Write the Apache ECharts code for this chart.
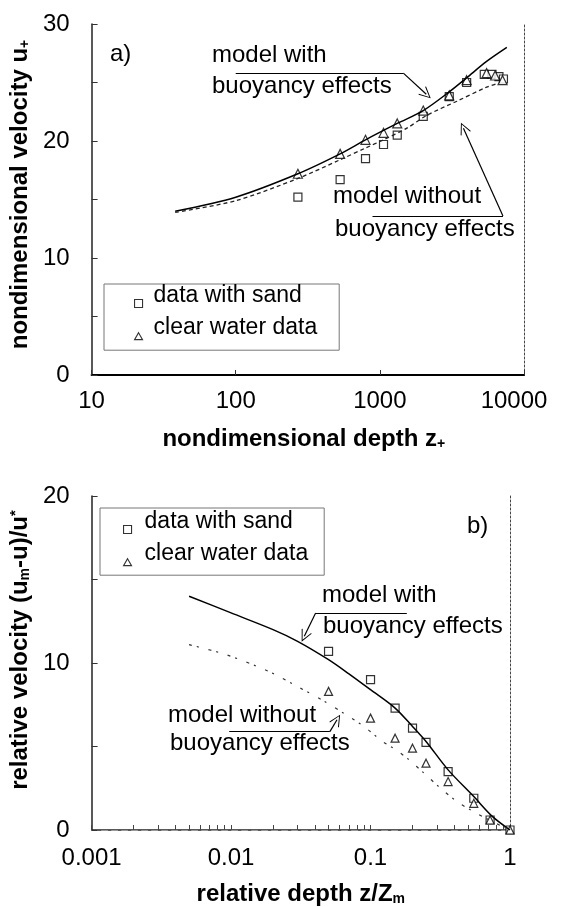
<!DOCTYPE html>
<html>
<head>
<meta charset="utf-8">
<script src="https://cdn.jsdelivr.net/npm/echarts@6/dist/echarts.min.js"></script>
<style>
html, body { margin: 0; padding: 0; background: #fff; }
#c { width: 567px; height: 907px; }
</style>
</head>
<body>
<div id="c"></div>
<script>
// ---- (a) nondimensional velocity profile ----
const zPlusSand   = [270, 530, 795, 1060, 1320, 2000, 3030, 4000, 5300, 6000, 6700, 7200];
const uPlusSand   = [15.2, 16.7, 18.5, 19.7, 20.5, 22.1, 23.8, 25.0, 25.7, 25.7, 25.5, 25.3];
const zPlusClear  = [270, 530, 795, 1060, 1320, 2000, 3030, 4000, 5500, 6300, 7100];
const uPlusClear  = [17.2, 18.9, 20.1, 20.7, 21.5, 22.6, 23.9, 25.2, 25.8, 25.6, 25.2];
const zPlusWith   = [38, 100, 270, 530, 795, 1320, 2000, 3030, 4000, 5500, 7600];
const uPlusWith   = [14.0, 15.2, 17.2, 18.9, 20.1, 21.5, 22.6, 24.2, 25.4, 26.8, 28.0];
const zPlusNo     = [38, 100, 270, 530, 795, 1060, 1540, 2120, 3420, 5500, 6450];
const uPlusNo     = [13.9, 14.9, 16.8, 18.4, 19.4, 20.1, 21.1, 22.2, 23.4, 24.6, 24.9];
const zPlusTicks  = [10, 100, 1000, 10000];

// ---- (b) velocity defect profile ----
const relDepth      = [0.05, 0.1, 0.15, 0.2, 0.25, 0.36, 0.55, 0.72, 1.0];
const defectSand    = [10.7, 9.0, 7.3, 6.1, 5.25, 3.5, 1.9, 0.6, 0];
const defectClear   = [8.3, 6.7, 5.5, 4.9, 4.0, 2.9, 1.6, 0.6, 0];
const relDepthWith  = [0.005, 0.01, 0.02, 0.03, 0.05, 0.07, 0.1, 0.15, 0.2, 0.25, 0.36, 0.55, 0.75, 1.0];
const defectWith    = [14.0, 13.0, 12.0, 11.3, 10.2, 9.35, 8.4, 7.3, 6.2, 5.3, 3.6, 2.0, 0.8, 0];
const relDepthNo    = [0.005, 0.0092, 0.0186, 0.0313, 0.0446, 0.073, 0.093, 0.122, 0.152, 0.189, 0.242, 0.318, 0.417, 0.547, 0.75, 1.0];
const defectNo      = [11.1, 10.5, 9.5, 8.5, 7.8, 6.7, 6.1, 5.3, 4.8, 4.2, 3.4, 2.5, 1.7, 1.1, 0.5, 0];
const relDepthDecades = [0.001, 0.01, 0.1, 1];

const SAND = 'data with sand';
const CLEAR = 'clear water data';
const FONT = '"Liberation Sans", Arial, Helvetica, sans-serif';

const zip = (xs, ys) => xs.map((x, i) => [x, ys[i]]);

// tick marks at 1..9 times each decade of the relative-depth axis
const relDepthTicks = [];
relDepthDecades.slice(0, -1).forEach(d => {
  for (let k = 1; k <= 9; k++) relDepthTicks.push(+(d * k).toPrecision(2));
});
relDepthTicks.push(relDepthDecades[relDepthDecades.length - 1]);

// open arrowhead (tip at the top of the path box)
const CHEVRON = 'path://M10,0 L20,18 L18.6,19 L10,3.2 L1.4,19 L0,18 Z';
// legend icons sitting low beside their text (the leading move-to widens the box upward)
const ICON_SQUARE = 'path://M0,0 M0,15 L8,15 L8,23 L0,23 Z';
const ICON_TRIANGLE = 'path://M0,0 M4,16 L8,23 L0,23 Z';

function leader(points) {
  // polyline leader: plain segments, arrowhead on the final one
  const segs = [];
  for (let i = 0; i < points.length - 1; i++) {
    const last = i === points.length - 2;
    segs.push([
      { coord: points[i], symbol: 'none' },
      { coord: points[i + 1], symbol: last ? CHEVRON : 'none', symbolSize: [11, 12] }
    ]);
  }
  return segs;
}

const nameStyle = (pad) => ({
  fontSize: 24, fontWeight: 'bold', fontFamily: FONT, color: '#000',
  padding: pad,
  rich: {
    s: { fontSize: 14, fontWeight: 'bold', fontFamily: FONT, color: '#000', verticalAlign: 'bottom', lineHeight: 6 },
    t: { fontSize: 15, fontWeight: 'bold', fontFamily: FONT, color: '#000', verticalAlign: 'top', lineHeight: 6 }
  }
});

const tickLabel = { fontSize: 24, fontFamily: FONT, color: '#000' };

function frameX(grid, min, max, color, type, width) {
  return {
    type: 'log', gridIndex: grid, min, max, position: 'top',
    axisLine: { show: true, lineStyle: { color, type, width } },
    axisTick: { show: false }, axisLabel: { show: false }, splitLine: { show: false }
  };
}
function frameY(grid, min, max, color, type, width) {
  return {
    type: 'value', gridIndex: grid, min, max, position: 'right',
    axisLine: { show: true, lineStyle: { color, type, width } },
    axisTick: { show: false }, axisLabel: { show: false }, splitLine: { show: false }
  };
}

const markerStyle = { color: '#fff', borderColor: '#000', borderWidth: 1.2 };

function legendBox(left, top, padding, textPad) {
  return {
    orient: 'vertical', left, top, padding, itemGap: 8,
    itemWidth: 8, itemHeight: 23, selectedMode: false,
    borderColor: '#777', borderWidth: 1,
    itemStyle: { color: '#fff', borderColor: '#000', borderWidth: 1.1 },
    textStyle: { fontSize: 23, fontFamily: FONT, color: '#000', padding: [0, 0, 0, textPad] },
    data: [{ name: SAND, icon: ICON_SQUARE }, { name: CLEAR, icon: ICON_TRIANGLE }]
  };
}

const option = {
  animation: false,
  backgroundColor: '#fff',
  grid: [
    { left: 90, top: 24, width: 434, height: 351 },
    { left: 88, top: 496, width: 422, height: 334 }
  ],
  xAxis: [
    {
      type: 'log', gridIndex: 0, min: 10, max: 10000, position: 'bottom',
      axisLine: { show: true, lineStyle: { color: '#333', width: 1.5 } },
      axisTick: { show: true, inside: true, length: 5, lineStyle: { color: '#333' } },
      axisLabel: {
        ...tickLabel, margin: 14, showMinLabel: true, showMaxLabel: true,
        formatter: v => {
          const n = Math.round(v);
          return n === zPlusTicks[zPlusTicks.length - 1] ? '{r|' + n + '}' : String(n);
        },
        rich: { r: { ...tickLabel, padding: [0, 20, 0, 0] } }
      },
      splitLine: { show: false },
      name: 'nondimensional depth z{s|+}', nameLocation: 'middle', nameGap: 52,
      nameTextStyle: nameStyle([0, 8, 0, 0])
    },
    frameX(0, 10, 10000, '#000', 'solid', 2),
    {
      type: 'log', gridIndex: 1, min: 0.001, max: 1, position: 'bottom',
      axisLine: { show: true, lineStyle: { color: '#222', width: 1.5 } },
      axisTick: { show: true, inside: true, length: 5, lineStyle: { color: '#444' }, customValues: relDepthTicks },
      axisLabel: {
        ...tickLabel, margin: 16, showMinLabel: true, showMaxLabel: true,
        customValues: relDepthDecades,
        formatter: v => String(+(+v).toPrecision(1))
      },
      splitLine: { show: false },
      name: 'relative depth z/Z{s|m}', nameLocation: 'middle', nameGap: 52,
      nameTextStyle: nameStyle(0)
    },
    frameX(1, 0.001, 1, '#999', [6, 4], 1)
  ],
  yAxis: [
    {
      type: 'value', gridIndex: 0, min: 0, max: 30, interval: 5,
      axisLine: { show: true, lineStyle: { color: '#222', width: 1.5 } },
      axisTick: { show: true, inside: true, length: 6, lineStyle: { color: '#333' } },
      axisLabel: { ...tickLabel, margin: 22, padding: [0, 0, 10, 0], formatter: v => (v % 10 === 0 ? String(v) : '') },
      splitLine: { show: false },
      name: 'nondimensional velocity u{s|+}', nameLocation: 'middle', nameGap: 46,
      nameTextStyle: nameStyle([0, 0, 0, 10])
    },
    frameY(0, 0, 30, '#444', [2, 2], 1),
    {
      type: 'value', gridIndex: 1, min: 0, max: 20, interval: 5,
      axisLine: { show: true, lineStyle: { color: '#222', width: 1.5 } },
      axisTick: { show: true, inside: true, length: 6, lineStyle: { color: '#333' } },
      axisLabel: { ...tickLabel, margin: 22, padding: [0, 0, 8, 0], formatter: v => (v % 10 === 0 ? String(v) : '') },
      splitLine: { show: false },
      name: 'relative velocity (u{s|m}-u)/u{t|*}', nameLocation: 'middle', nameGap: 44,
      nameTextStyle: nameStyle([0, 0, 0, 26])
    },
    frameY(1, 0, 20, '#444', [2, 2], 1)
  ],
  legend: [
    legendBox(104, 284, [0, 22, 10, 30], 6),
    legendBox(100, 508, [2, 16, 9, 23], 8)
  ],
  series: [
    // (a)
    {
      type: 'line', name: 'model with buoyancy effects', xAxisIndex: 0, yAxisIndex: 0,
      data: zip(zPlusWith, uPlusWith), smooth: 0.3, symbol: 'none',
      lineStyle: { color: '#000', width: 1.5 },
      markLine: {
        silent: true, animation: false, label: { show: false },
        lineStyle: { color: '#000', width: 1.2, type: 'solid' },
        data: leader([[100, 25.8], [1455, 25.8], [2100, 24.0]])
      }
    },
    {
      type: 'line', name: 'model without buoyancy effects', xAxisIndex: 0, yAxisIndex: 0,
      data: zip(zPlusNo, uPlusNo), smooth: 0.3, symbol: 'none',
      lineStyle: { color: '#222', width: 1.3, type: [4, 3] },
      markLine: {
        silent: true, animation: false, label: { show: false },
        lineStyle: { color: '#000', width: 1.2, type: 'solid' },
        data: leader([[889, 13.6], [7145, 13.6], [3800, 21.1]])
      }
    },
    {
      type: 'scatter', name: SAND, xAxisIndex: 0, yAxisIndex: 0,
      data: zip(zPlusSand, uPlusSand), symbol: 'rect', symbolSize: 8, itemStyle: markerStyle
    },
    {
      type: 'scatter', name: CLEAR, xAxisIndex: 0, yAxisIndex: 0,
      data: zip(zPlusClear, uPlusClear), symbol: 'triangle', symbolSize: 9, itemStyle: markerStyle
    },
    // (b)
    {
      type: 'line', name: 'model with buoyancy effects (b)', xAxisIndex: 2, yAxisIndex: 2,
      data: zip(relDepthWith, defectWith), smooth: 0.3, symbol: 'none',
      lineStyle: { color: '#000', width: 1.5 },
      markLine: {
        silent: true, animation: false, label: { show: false },
        lineStyle: { color: '#000', width: 1.2, type: 'solid' },
        data: leader([[0.182, 13.0], [0.0404, 13.0], [0.0335, 11.6]])
      }
    },
    {
      type: 'line', name: 'model without buoyancy effects (b)', xAxisIndex: 2, yAxisIndex: 2,
      data: zip(relDepthNo, defectNo), smooth: 0.3, symbol: 'none',
      lineStyle: { color: '#333', width: 1.2, type: [3, 5, 2, 10] },
      markLine: {
        silent: true, animation: false, label: { show: false },
        lineStyle: { color: '#000', width: 1.2, type: 'solid' },
        data: leader([[0.0097, 5.89], [0.0511, 5.89], [0.0575, 6.6]])
      }
    },
    {
      type: 'scatter', name: SAND, xAxisIndex: 2, yAxisIndex: 2,
      data: zip(relDepth, defectSand), symbol: 'rect', symbolSize: 8, itemStyle: markerStyle
    },
    {
      type: 'scatter', name: CLEAR, xAxisIndex: 2, yAxisIndex: 2,
      data: zip(relDepth, defectClear), symbol: 'triangle', symbolSize: 8, itemStyle: markerStyle
    }
  ],
  graphic: [
    { type: 'text', x: 110, y: 54, style: { text: 'a)', font: '24px ' + FONT, fill: '#000', verticalAlign: 'middle' } },
    { type: 'text', x: 212, y: 55, style: { text: 'model with', font: '24px ' + FONT, fill: '#000', verticalAlign: 'middle' } },
    { type: 'text', x: 212, y: 86, style: { text: 'buoyancy effects', font: '24px ' + FONT, fill: '#000', verticalAlign: 'middle' } },
    { type: 'text', x: 333, y: 196, style: { text: 'model without', font: '24px ' + FONT, fill: '#000', verticalAlign: 'middle' } },
    { type: 'text', x: 335, y: 229, style: { text: 'buoyancy effects', font: '24px ' + FONT, fill: '#000', verticalAlign: 'middle' } },
    { type: 'text', x: 467, y: 526, style: { text: 'b)', font: '24px ' + FONT, fill: '#000', verticalAlign: 'middle' } },
    { type: 'text', x: 322, y: 595, style: { text: 'model with', font: '24px ' + FONT, fill: '#000', verticalAlign: 'middle' } },
    { type: 'text', x: 323, y: 626, style: { text: 'buoyancy effects', font: '24px ' + FONT, fill: '#000', verticalAlign: 'middle' } },
    { type: 'text', x: 168, y: 715, style: { text: 'model without', font: '24px ' + FONT, fill: '#000', verticalAlign: 'middle' } },
    { type: 'text', x: 170, y: 743, style: { text: 'buoyancy effects', font: '24px ' + FONT, fill: '#000', verticalAlign: 'middle' } }
  ]
};

const chart = echarts.init(document.getElementById('c'), null, { renderer: 'canvas' });
chart.setOption(option);
</script>
</body>
</html>
